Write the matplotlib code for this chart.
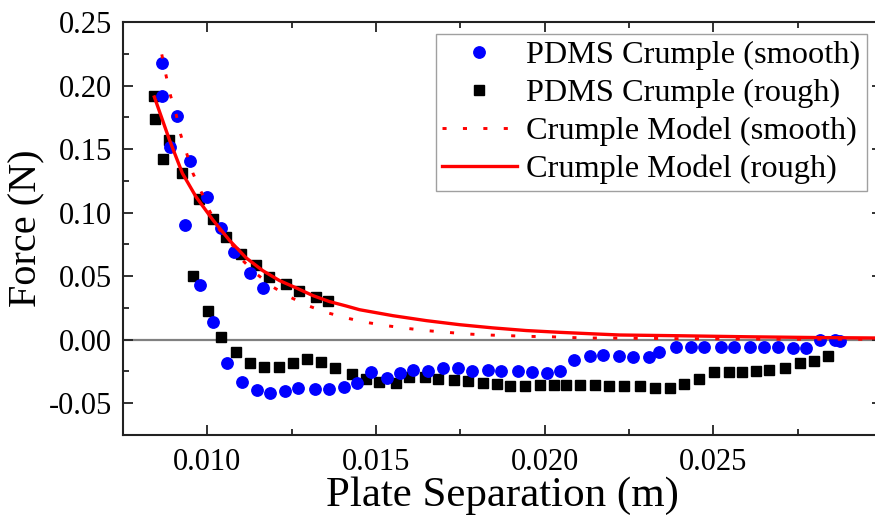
import matplotlib
matplotlib.use("Agg")
import matplotlib.pyplot as plt
from matplotlib.ticker import MultipleLocator, FixedLocator, FormatStrFormatter

plt.rcParams["font.family"] = ["Liberation Serif", "DejaVu Serif"]
plt.rcParams["axes.unicode_minus"] = False

# Measured force vs plate separation, smooth PDMS crumple
smooth_x = [0.00865, 0.00865, 0.0089, 0.0091, 0.00935, 0.0095, 0.00979, 0.00999, 0.01016, 0.0104,
            0.01058, 0.01079, 0.01103, 0.01125, 0.01147, 0.01165, 0.01186, 0.01229, 0.01268, 0.01318,
            0.0136, 0.01404, 0.01444, 0.01486, 0.01532, 0.01572, 0.01609, 0.01654, 0.01698, 0.01742,
            0.01784, 0.01831, 0.01871, 0.0192, 0.01963, 0.02006, 0.02046, 0.02088, 0.02133, 0.02174,
            0.0222, 0.02263, 0.02308, 0.0234, 0.02388, 0.02434, 0.02473, 0.02522, 0.02561, 0.02609,
            0.02649, 0.02691, 0.02735, 0.02775, 0.02816, 0.0286, 0.02876]
smooth_y = [0.218, 0.192, 0.152, 0.176, 0.090, 0.141, 0.043, 0.112, 0.0136, 0.088,
            -0.0187, 0.069, -0.033, 0.0526, -0.0397, 0.0405, -0.0418, -0.040, -0.038, -0.039,
            -0.039, -0.037, -0.034, -0.0255, -0.030, -0.0266, -0.024, -0.0244, -0.0226, -0.0226,
            -0.0244, -0.0237, -0.0244, -0.025, -0.0258, -0.0263, -0.025, -0.016, -0.0131, -0.012,
            -0.013, -0.0134, -0.0137, -0.0097, -0.0055, -0.0058, -0.0055, -0.0055, -0.0055, -0.006,
            -0.006, -0.006, -0.0063, -0.0063, 0.0, 0.0, -0.0008]

# Measured force vs plate separation, rough PDMS crumple
rough_x = [0.00841, 0.00844, 0.00868, 0.00886, 0.00925, 0.00957, 0.00975, 0.01001, 0.01016, 0.01041,
           0.01056, 0.01084, 0.0110, 0.01127, 0.01143, 0.01167, 0.01182, 0.01212, 0.01232, 0.01253,
           0.01271, 0.01295, 0.01321, 0.01338, 0.01357, 0.01379, 0.0143, 0.0147, 0.0151, 0.0156,
           0.01599, 0.01644, 0.01683, 0.01731, 0.01772, 0.01817, 0.01859, 0.01898, 0.01943, 0.01985,
           0.02027, 0.02064, 0.02105, 0.02148, 0.02192, 0.02235, 0.02282, 0.02327, 0.02371, 0.02413,
           0.02458, 0.02502, 0.02546, 0.02585, 0.02625, 0.02664, 0.02711, 0.02758, 0.02798, 0.02841]
rough_y = [0.192, 0.174, 0.142, 0.157, 0.131, 0.0505, 0.111, 0.0225, 0.0952, 0.0018,
           0.0812, -0.0095, 0.0676, -0.0187, 0.0584, -0.0213, 0.0497, -0.0213, 0.0439, -0.0187,
           0.0381, -0.0152, 0.0339, -0.0179, 0.0302, -0.0223, -0.027, -0.031, -0.033, -0.0337,
           -0.0297, -0.0297, -0.031, -0.0315, -0.0323, -0.0337, -0.0349, -0.0366, -0.0363, -0.0357,
           -0.0357, -0.0357, -0.0357, -0.0357, -0.0368, -0.0365, -0.0363, -0.0382, -0.0382, -0.0349,
           -0.031, -0.0252, -0.0258, -0.0258, -0.0244, -0.0237, -0.0226, -0.0187, -0.0166, -0.0131]

# Crumple model curves
model_smooth_x = [0.00865, 0.00878, 0.00891, 0.00908, 0.00921, 0.00939, 0.00957, 0.00982, 0.01007,
                  0.01036, 0.01071, 0.01105, 0.01148, 0.01196, 0.01246, 0.01298, 0.01352, 0.01412,
                  0.01472, 0.01532, 0.01592, 0.01652, 0.01711, 0.0177, 0.0183, 0.01891, 0.0195,
                  0.02009, 0.02068, 0.02128, 0.02187, 0.0235, 0.0255, 0.0275, 0.0300]
model_smooth_y = [0.2245, 0.2074, 0.192, 0.1767, 0.1614, 0.1464, 0.1312, 0.1162, 0.1012,
                  0.0865, 0.0759, 0.0623, 0.0513, 0.0412, 0.0334, 0.0268, 0.0215, 0.0171,
                  0.0136, 0.011, 0.0089, 0.0071, 0.0058, 0.0045, 0.0037, 0.0032, 0.0026,
                  0.0024, 0.0018, 0.0013, 0.0013, 0.0009, 0.0006, 0.0004, 0.0003]

model_rough_x = [0.00843, 0.00888, 0.00926, 0.00967, 0.01016, 0.01066, 0.01115, 0.01164, 0.01214,
                 0.01263, 0.01313, 0.01362, 0.01412, 0.01451, 0.0151, 0.0155, 0.01649, 0.01748,
                 0.01846, 0.01945, 0.02044, 0.02143, 0.02222, 0.0240, 0.0260, 0.0280, 0.0300]
model_rough_y = [0.191, 0.157, 0.131, 0.1122, 0.0944, 0.0781, 0.0644, 0.0544, 0.0465,
                 0.0408, 0.0347, 0.030, 0.0265, 0.0236, 0.0208, 0.0189, 0.015, 0.0118,
                 0.0093, 0.0072, 0.0058, 0.0046, 0.0037, 0.0031, 0.0023, 0.0017, 0.0013]

x_major = [0.010, 0.015, 0.020, 0.025]
x_minor = [0.0125, 0.0175, 0.0225, 0.0275]

W, H = 875, 523
fig = plt.figure(figsize=(W / 100, H / 100), dpi=100)
ax = fig.add_axes([123 / W, (H - 435) / H, 759 / W, 413 / H])

ax.axhline(0, color="#808080", lw=1.6, zorder=1)

ax.plot(rough_x, rough_y, ls="none", marker="s", ms=7.2, color="black",
        label="PDMS Crumple (rough)", zorder=3)
ax.plot(smooth_x, smooth_y, ls="none", marker="o", ms=8.2, color="#0000ff",
        label="PDMS Crumple (smooth)", zorder=4)
ax.plot(model_smooth_x, model_smooth_y, color="red", lw=2.1, dashes=(1.4, 5.6),
        label="Crumple Model (smooth)", zorder=5)
ax.plot(model_rough_x, model_rough_y, color="red", lw=2.4,
        label="Crumple Model (rough)", zorder=6)

ax.set_xlim(0.0075, 0.030)
ax.set_ylim(-0.075, 0.25)

ax.xaxis.set_major_locator(FixedLocator(x_major))
ax.xaxis.set_minor_locator(FixedLocator(x_minor))
ax.xaxis.set_major_formatter(FormatStrFormatter("%.3f"))
ax.yaxis.set_major_locator(MultipleLocator(0.05))
ax.yaxis.set_minor_locator(MultipleLocator(0.025))
ax.yaxis.set_major_formatter(FormatStrFormatter("%.2f"))

ax.tick_params(which="both", direction="in", top=True, right=True, colors="#222222",
               labelcolor="black", labelsize=22)
ax.tick_params(which="major", length=7, width=1.3)
ax.tick_params(which="minor", length=4, width=1.3)
ax.tick_params(axis="x", pad=9)
ax.tick_params(axis="y", pad=8)
for s in ax.spines.values():
    s.set_linewidth(1.5)
    s.set_color("#222222")

ax.set_xlabel("Plate Separation (m)", fontsize=31, labelpad=0)
ax.set_ylabel("Force (N)", fontsize=29, labelpad=2)

handles, labels = ax.get_legend_handles_labels()
order = [1, 0, 2, 3]
leg = ax.legend([handles[i] for i in order], [labels[i] for i in order],
                loc="upper right", bbox_to_anchor=(867 / W, (H - 34) / H),
                bbox_transform=fig.transFigure, fontsize=23.3, frameon=True,
                fancybox=False, edgecolor="#888888", handlelength=2.3,
                handletextpad=0.3, labelspacing=0.26, borderpad=0.2, borderaxespad=0,
                handleheight=0.7)
leg.get_frame().set_linewidth(1.0)

fig.savefig("out.png", dpi=100)
